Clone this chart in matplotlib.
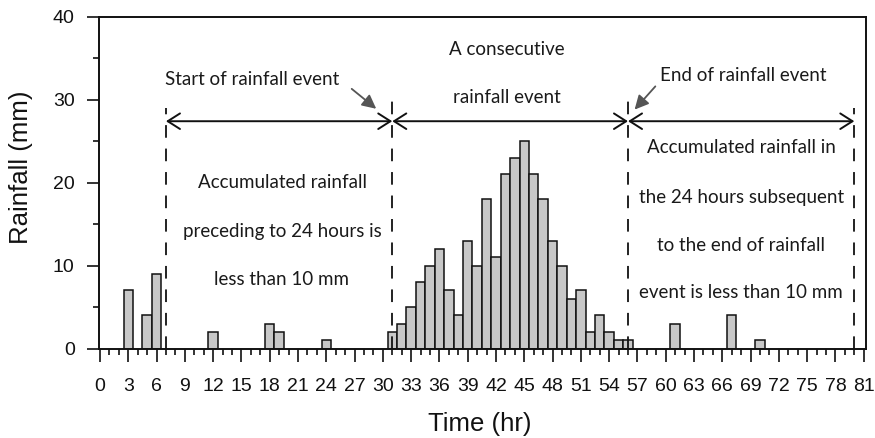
import matplotlib
matplotlib.use("Agg")
import matplotlib.pyplot as plt
from matplotlib.ticker import MultipleLocator

# hourly rainfall (only the hours with rain)
hours = [3, 5, 6, 12, 18, 19, 24,
         31, 32, 33, 34, 35, 36, 37, 38, 39, 40, 41, 42, 43,
         44, 45, 46, 47, 48, 49, 50, 51, 52, 53, 54, 55, 56,
         61, 67, 70]
rain = [7, 4, 9, 2, 3, 2, 1,
        2, 3, 5, 8, 10, 12, 7, 4, 13, 10, 18, 11, 21,
        23, 25, 21, 18, 13, 10, 6, 7, 2, 4, 2, 1, 1,
        3, 4, 1]

# event boundaries (hr)
pre_start = 7
event_start = 31
event_end = 56
post_end = 80

fig = plt.figure(figsize=(8.75, 4.38), dpi=100)
ax = fig.add_axes([99 / 875, 89.5 / 438, 767 / 875, 331.8 / 438])

ax.bar(hours, rain, width=1.0, color="#c8c8c8", edgecolor="#111111", linewidth=1.1, zorder=2)

ax.set_xlim(-0.1, 81.24)
ax.set_ylim(0, 40)
ax.xaxis.set_major_locator(MultipleLocator(3))
ax.xaxis.set_minor_locator(MultipleLocator(1))
ax.yaxis.set_major_locator(MultipleLocator(10))
ax.yaxis.set_minor_locator(MultipleLocator(5))

ax.tick_params(which="major", length=9, width=1.2, direction="out", colors="#111111")
ax.tick_params(which="minor", length=4.5, width=1.2, direction="out", colors="#111111")
ax.tick_params(axis="x", which="major", pad=12.5, labelsize=14, labelcolor="#111111")
ax.tick_params(axis="y", which="major", pad=8.5, labelsize=14, labelcolor="#111111")
for lab in ax.get_xticklabels() + ax.get_yticklabels():
    lab.set_family("Liberation Sans")

for sp in ax.spines.values():
    sp.set_linewidth(1.4)
    sp.set_color("#111111")

ax.set_xlabel("Time (hr)", fontsize=18.5, family="Liberation Sans", color="#111111")
ax.set_ylabel("Rainfall (mm)", fontsize=18.5, family="Liberation Sans", color="#111111")
ax.xaxis.set_label_coords(0.496, -0.19)
ax.yaxis.set_label_coords(-0.086, 0.547)

# dashed boundary lines
dash = dict(color="#111111", linewidth=1.3, dashes=(7, 6))
ax.plot([pre_start, pre_start], [0, 29], **dash)
ax.plot([event_start, event_start], [0, 30.6], **dash)
ax.plot([event_end, event_end], [0, 30.6], **dash)
ax.plot([post_end, post_end], [0, 29], **dash)

# double-headed span arrows
arrow_y = 27.4
span = dict(arrowstyle="<->,head_length=0.55,head_width=0.35", color="#111111",
            lw=1.4, shrinkA=0, shrinkB=0, mutation_scale=16)
for a, b in [(pre_start, event_start), (event_start, event_end), (event_end, post_end)]:
    ax.annotate("", xy=(b, arrow_y), xytext=(a, arrow_y), arrowprops=span)

# pointer arrows
pointer = dict(arrowstyle="-|>,head_length=0.6,head_width=0.3", color="#555555",
               lw=1.3, shrinkA=0, shrinkB=0, mutation_scale=14)
ax.annotate("", xy=(29.3, 28.9), xytext=(26.7, 31.3), arrowprops=pointer)
ax.annotate("", xy=(56.7, 28.8), xytext=(58.9, 31.6), arrowprops=pointer)

txt = dict(ha="center", va="center", fontsize=13.5, family="Lato", color="#1a1a1a")
ax.text(16.1, 32.4, "Start of rainfall event", **txt)
ax.text(43.1, 36.1, "A consecutive", **txt)
ax.text(43.2, 30.3, "rainfall event", **txt)
ax.text(68.2, 32.9, "End of rainfall event", **txt)

ax.text(19.35, 20.0, "Accumulated rainfall", **txt)
ax.text(19.3, 14.1, "preceding to 24 hours is", **txt)
ax.text(19.3, 8.3, "less than 10 mm", **txt)

ax.text(68.0, 24.2, "Accumulated rainfall in", **txt)
ax.text(68.0, 18.2, "the 24 hours subsequent", **txt)
ax.text(68.0, 12.4, "to the end of rainfall", **txt)
ax.text(68.0, 6.7, "event is less than 10 mm", **txt)

fig.savefig("out.png", dpi=100)
